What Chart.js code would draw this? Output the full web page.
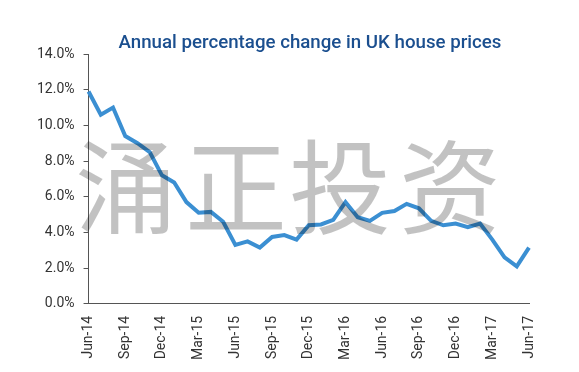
<!DOCTYPE html>
<html>
<head>
<meta charset="utf-8">
<title>Annual percentage change in UK house prices</title>
<script src="https://cdn.jsdelivr.net/npm/chart.js@4"></script>
<style>
  html, body { margin: 0; padding: 0; background: #fff; }
  #wrap { width: 579px; height: 372px; position: relative; }
</style>
</head>
<body>
<div id="wrap"><canvas id="hpiChart"></canvas></div>
<script>
var chartTitle = 'Annual percentage change in UK house prices';
var watermarkText = ['涌', '正', '投', '资'];

var months = [
  'Jun-14', 'Jul-14', 'Aug-14', 'Sep-14', 'Oct-14', 'Nov-14', 'Dec-14',
  'Jan-15', 'Feb-15', 'Mar-15', 'Apr-15', 'May-15', 'Jun-15', 'Jul-15',
  'Aug-15', 'Sep-15', 'Oct-15', 'Nov-15', 'Dec-15', 'Jan-16', 'Feb-16',
  'Mar-16', 'Apr-16', 'May-16', 'Jun-16', 'Jul-16', 'Aug-16', 'Sep-16',
  'Oct-16', 'Nov-16', 'Dec-16', 'Jan-17', 'Feb-17', 'Mar-17', 'Apr-17',
  'May-17', 'Jun-17'
];

// annual % change
var priceChange = [
  11.9, 10.6, 11.0, 9.4, 9.0, 8.5, 7.2,
  6.8, 5.7, 5.1, 5.15, 4.6, 3.3, 3.5,
  3.15, 3.75, 3.85, 3.6, 4.4, 4.45, 4.7,
  5.7, 4.85, 4.65, 5.1, 5.2, 5.6, 5.35,
  4.65, 4.4, 4.5, 4.3, 4.5, 3.6, 2.6,
  2.1, 3.15
];

var yTicks = [0, 2, 4, 6, 8, 10, 12, 14];

// title centred over the plot area + grey watermark laid over the line
var overlayPlugin = {
  id: 'overlay',
  afterDatasetsDraw: function(chart) {
    var ctx = chart.ctx;
    var centres = [126, 236, 340, 450];
    ctx.save();
    ctx.fillStyle = 'rgba(0, 0, 0, 0.24)';
    ctx.font = '102px "Noto Sans CJK SC"';
    ctx.textAlign = 'center';
    ctx.textBaseline = 'middle';
    for (var i = 0; i < watermarkText.length; i++) {
      ctx.fillText(watermarkText[i], centres[i], 187);
    }
    ctx.restore();
  },
  afterDraw: function(chart) {
    var ctx = chart.ctx;
    ctx.save();
    ctx.fillStyle = '#1b4f8f';
    ctx.font = '500 18.7px Roboto';
    ctx.textAlign = 'center';
    ctx.textBaseline = 'alphabetic';
    ctx.fillText(chartTitle, 310, 48);
    ctx.restore();
  }
};

var ctx = document.getElementById('hpiChart').getContext('2d');
var hpiChart = new Chart(ctx, {
  type: 'line',
  data: {
    labels: months,
    datasets: [{
      label: 'UK house prices',
      data: priceChange,
      borderColor: '#3b8fd2',
      borderWidth: 4,
      pointRadius: 0,
      tension: 0,
      fill: false
    }]
  },
  options: {
    responsive: true,
    maintainAspectRatio: false,
    animation: false,
    layout: {
      padding: { top: 54, right: 50, bottom: 8, left: 28 }
    },
    plugins: {
      legend: { display: false },
      title: { display: false },
      tooltip: { enabled: false }
    },
    scales: {
      x: {
        grid: { display: false },
        border: { display: true, color: '#555', width: 1 },
        ticks: {
          autoSkip: false,
          maxRotation: 90,
          minRotation: 90,
          padding: 4,
          color: '#333',
          font: { family: 'Roboto', size: 14 },
          callback: function(value, index) {
            return index % 3 === 0 ? months[index] : '';
          }
        }
      },
      y: {
        min: 0,
        max: 14,
        afterBuildTicks: function(axis) {
          axis.ticks = yTicks.map(function(v) { return { value: v }; });
        },
        grid: {
          drawOnChartArea: false,
          drawTicks: true,
          tickLength: 5,
          color: '#555'
        },
        border: { display: true, color: '#555', width: 1 },
        ticks: {
          padding: 9,
          color: '#333',
          font: { family: 'Roboto', size: 14 },
          callback: function(value) {
            return value.toFixed(1) + '%';
          }
        }
      }
    }
  },
  plugins: [overlayPlugin]
});
</script>
</body>
</html>
